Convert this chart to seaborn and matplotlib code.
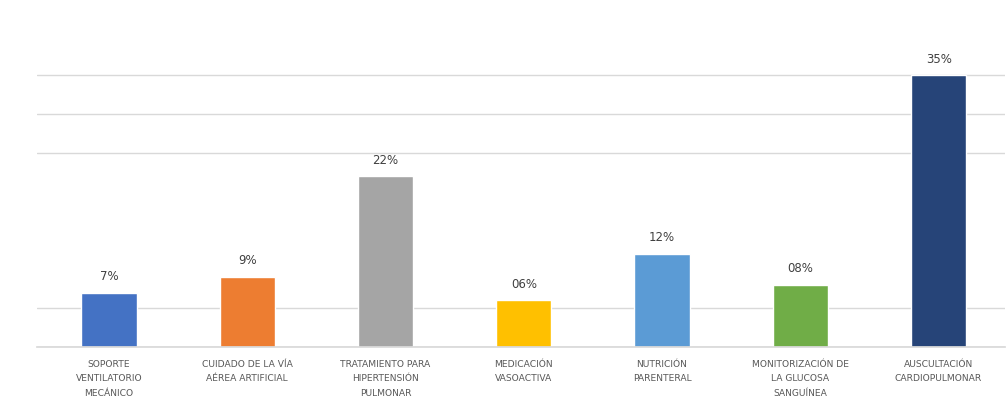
import matplotlib
matplotlib.use("Agg")
import matplotlib.pyplot as plt
import seaborn as sns
import pandas as pd

categories = [
    "SOPORTE\nVENTILATORIO\nMECÁNICO",
    "CUIDADO DE LA VÍA\nAÉREA ARTIFICIAL",
    "TRATAMIENTO PARA\nHIPERTENSIÓN\nPULMONAR",
    "MEDICACIÓN\nVASOACTIVA",
    "NUTRICIÓN\nPARENTERAL",
    "MONITORIZACIÓN DE\nLA GLUCOSA\nSANGUÍNEA",
    "AUSCULTACIÓN\nCARDIOPULMONAR",
]
values = [7, 9, 22, 6, 12, 8, 35]
value_labels = ["7%", "9%", "22%", "06%", "12%", "08%", "35%"]
colors = ["#4472C4", "#ED7D31", "#A5A5A5", "#FFC000", "#5B9BD5", "#70AD47", "#264478"]
grid_levels = [0, 5, 25, 30, 35]

df = pd.DataFrame({"categoria": categories, "valor": values})

sns.set_theme(style="white")
plt.rcParams["font.family"] = ["DejaVu Sans"]

fig = plt.figure(figsize=(10.07, 4.19), dpi=100)
ax = fig.add_axes([37 / 1007, 72 / 419, 968 / 1007, 291 / 419])

sns.barplot(data=df, x="categoria", y="valor", hue="categoria",
            palette=colors, width=0.4, legend=False, ax=ax, saturation=1)

ax.set_xlim(-0.52, 6.48)
ax.set_ylim(0, 37.5)
ax.set_yticks(grid_levels)
ax.yaxis.grid(True, color="#d9d9d9", linewidth=1.0)
ax.set_axisbelow(True)
ax.tick_params(axis="y", left=False, labelleft=False)
ax.tick_params(axis="x", bottom=False, pad=3, labelsize=6.6, labelcolor="#595959")
for lbl in ax.get_xticklabels():
    lbl.set_linespacing(1.8)
ax.set_xlabel("")
ax.set_ylabel("")
for s in ["top", "right", "left"]:
    ax.spines[s].set_visible(False)
ax.spines["bottom"].set_color("#d9d9d9")

for i, (v, t) in enumerate(zip(values, value_labels)):
    ax.annotate(t, xy=(i, v), xytext=(0, 7), textcoords="offset points",
                ha="center", va="bottom", fontsize=8.5, color="#404040")

fig.savefig("out.png", dpi=100, facecolor="white")
